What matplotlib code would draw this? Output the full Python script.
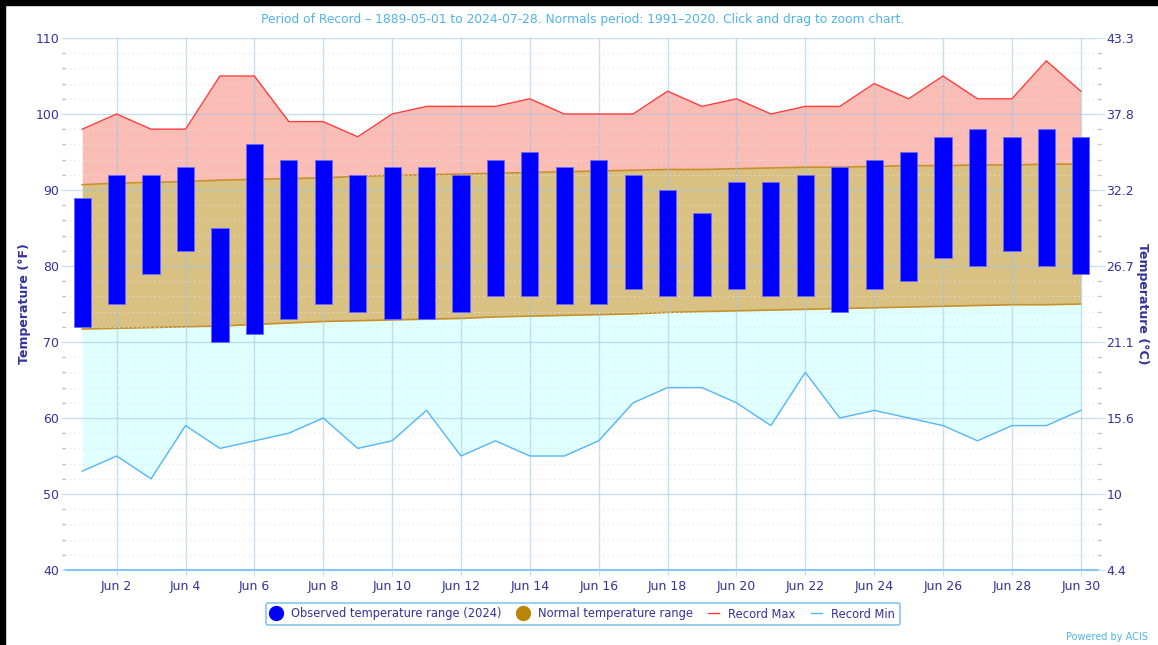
import matplotlib
matplotlib.use("Agg")
import matplotlib.pyplot as plt
from matplotlib.lines import Line2D
from matplotlib.patches import Rectangle
import numpy as np

days = list(range(1, 31))
obs_high = [89, 92, 92, 93, 85, 96, 94, 94, 92, 93, 93, 92, 94, 95, 93, 94, 92, 90, 87, 91,
            91, 92, 93, 94, 95, 97, 98, 97, 98, 97]
obs_low = [72, 75, 79, 82, 70, 71, 73, 75, 74, 73, 73, 74, 76, 76, 75, 75, 77, 76, 76, 77,
           76, 76, 74, 77, 78, 81, 80, 82, 80, 79]
normal_high = [90.7, 90.9, 91.0, 91.1, 91.3, 91.4, 91.5, 91.6, 91.8, 91.9, 92.0, 92.1, 92.2, 92.3, 92.4,
               92.5, 92.6, 92.7, 92.7, 92.8, 92.9, 93.0, 93.0, 93.1, 93.2, 93.2, 93.3, 93.3, 93.4, 93.4]
normal_low = [71.7, 71.8, 71.9, 72.0, 72.1, 72.3, 72.5, 72.7, 72.8, 72.9, 73.0, 73.1, 73.3, 73.4, 73.5,
              73.6, 73.7, 73.9, 74.0, 74.1, 74.2, 74.3, 74.4, 74.5, 74.6, 74.7, 74.8, 74.9, 74.9, 75.0]
record_max = [98, 100, 98, 98, 105, 105, 99, 99, 97, 100, 101, 101, 101, 102, 100, 100, 100, 103, 101, 102,
              100, 101, 101, 104, 102, 105, 102, 102, 107, 103]
record_min = [53, 55, 52, 59, 56, 57, 58, 60, 56, 57, 61, 55, 57, 55, 55, 57, 62, 64, 64, 62,
              59, 66, 60, 61, 60, 59, 57, 59, 59, 61]
xtick_days = [2, 4, 6, 8, 10, 12, 14, 16, 18, 20, 22, 24, 26, 28, 30]
xtick_labels = ["Jun 2", "Jun 4", "Jun 6", "Jun 8", "Jun 10", "Jun 12", "Jun 14", "Jun 16",
                "Jun 18", "Jun 20", "Jun 22", "Jun 24", "Jun 26", "Jun 28", "Jun 30"]
f_ticks = [40, 50, 60, 70, 80, 90, 100, 110]
c_labels = ["4.4", "10", "15.6", "21.1", "26.7", "32.2", "37.8", "43.3"]
title = "Period of Record – 1889-05-01 to 2024-07-28. Normals period: 1991–2020. Click and drag to zoom chart."

NAVY = "#33339a"
LBLUE = "#4fb3e8"

plt.rcParams['font.family'] = ['DejaVu Sans']
fig = plt.figure(figsize=(11.58, 6.45), dpi=100)
ax = fig.add_axes([65/1158, 1-570/645, (1098-65)/1158, (570-38)/645])

ax.fill_between(days, normal_high, record_max, color="#fabdb6", lw=0, zorder=1)
ax.fill_between(days, normal_low, normal_high, color="#d9c083", lw=0, zorder=1)
ax.fill_between(days, record_min, normal_low, color="#e0ffff", lw=0, zorder=1)
ax.plot(days, normal_high, color="#c8902a", lw=1.2, zorder=2)
ax.plot(days, normal_low, color="#c8902a", lw=1.2, zorder=2)
ax.plot(days, record_max, color="#ff3b3b", lw=1.0, zorder=3)
ax.plot(days, record_min, color="#55b5f5", lw=1.0, zorder=3)

bottoms = np.array(obs_low)
heights = np.array(obs_high) - bottoms
ax.bar(days, heights, bottom=bottoms, width=0.5, color="#0000ff", edgecolor="#6a6aff",
       linewidth=0.6, zorder=4)

ax.set_xlim(0.5, 30.5)
ax.set_ylim(40, 110)
ax.set_yticks(f_ticks)
ax.set_yticks(np.arange(40, 111, 2), minor=True)
ax.set_xticks(xtick_days)
ax.set_xticklabels(xtick_labels)
ax.grid(True, which="major", axis="both", color="#9cc6e6", lw=1.0, alpha=0.55, zorder=1.5)
ax.grid(True, which="minor", axis="y", color="#e2e2e2", lw=0.8, ls=(0, (1, 3)), zorder=1.5)
ax.set_axisbelow(False)
for s in ["top", "right", "left"]:
    ax.spines[s].set_visible(False)
ax.spines["bottom"].set_color("#86c6ee")
ax.spines["bottom"].set_linewidth(1.5)
ax.tick_params(axis="y", which="major", length=3, color="#c4def2", labelcolor=NAVY, labelsize=9, pad=1)
ax.tick_params(axis="y", which="minor", length=2, color="#bbbbbb", width=1)
ax.tick_params(axis="x", which="major", length=4, color="#c4def2", labelcolor=NAVY, labelsize=9, pad=3)

ax2 = ax.twinx()
ax2.set_ylim(40, 110)
ax2.set_yticks(f_ticks)
ax2.set_yticklabels(c_labels)
ax2.set_yticks(np.arange(40, 111, 2), minor=True)
for s in ax2.spines.values():
    s.set_visible(False)
ax2.tick_params(axis="y", which="major", length=5, color="#c4def2", labelcolor=NAVY, labelsize=9, pad=1)
ax2.tick_params(axis="y", which="minor", length=2, color="#bbbbbb", width=1)

fig.text(25/1158, 1-304/645, "Temperature (°F)", color=NAVY, fontsize=9, fontweight="bold",
         rotation=90, ha="center", va="center")
fig.text(1143/1158, 1-304/645, "Temperature (°C)", color=NAVY, fontsize=9, fontweight="bold",
         rotation=270, ha="center", va="center")

fig.text(583/1158, 1-19/645, title, color=LBLUE, fontsize=8.8, ha="center", va="center")
fig.text(1148/1158, 1-637/645, "Powered by ACIS", color=LBLUE, fontsize=7, ha="right", va="center")

handles = [
    Line2D([], [], marker="o", ls="none", color="#0000ff", markersize=10),
    Line2D([], [], marker="o", ls="none", color="#b8860b", markersize=10),
    Line2D([], [], color="#ff3b3b", lw=1),
    Line2D([], [], color="#55b5f5", lw=1),
]
labels = ["Observed temperature range (2024)", "Normal temperature range", "Record Max", "Record Min"]
leg = fig.legend(handles, labels, loc="center", bbox_to_anchor=(583/1158, 1-614/645), ncol=4,
                 frameon=True, fontsize=8.3, labelcolor=NAVY, handlelength=1.0, handletextpad=0.8,
                 columnspacing=1.3, borderpad=0.4, fancybox=True)
leg.get_frame().set_edgecolor("#66b8e8")
leg.get_frame().set_linewidth(1.2)

fig.patches.append(Rectangle((0, 1-5/645), 1, 5/645, transform=fig.transFigure, color="black", zorder=10))
fig.patches.append(Rectangle((0, 0), 5/1158, 1, transform=fig.transFigure, color="black", zorder=10))

fig.savefig("out.png", dpi=100)
